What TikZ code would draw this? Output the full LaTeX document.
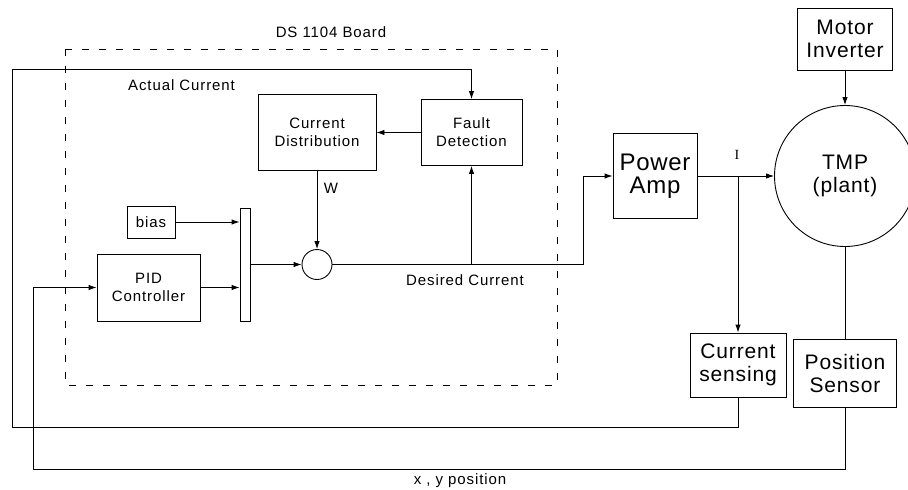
\documentclass[tikz,border=0pt]{standalone}
\usepackage{fontspec}
\setmainfont{Liberation Sans}
\newfontfamily\serifletter{Liberation Serif}
\usetikzlibrary{arrows.meta,positioning}
\newcommand\smalltext{\fontsize{15}{18}\selectfont\addfontfeature{LetterSpace=6}}
\newcommand\bigtext{\fontsize{21}{23}\selectfont\addfontfeature{LetterSpace=4}}
\tikzset{
  smallbox/.style={
    draw=black,
    line width=0.9pt,
    align=center,
    inner sep=0pt,
    font=\smalltext
  },
  bigbox/.style={
    draw=black,
    line width=0.9pt,
    align=center,
    inner sep=0pt,
    font=\bigtext
  },
  sumnode/.style={
    draw=black,
    circle,
    line width=0.9pt,
    minimum size=30pt,
    inner sep=0pt
  },
  sigarrow/.style={
    -{Latex[length=8pt,width=5.5pt]},
    line width=0.9pt
  },
  sigline/.style={
    line width=0.9pt
  },
  boardline/.style={
    line width=0.6pt,
    dash pattern=on 7pt off 10pt
  },
  labeltext/.style={
    font=\smalltext,
    inner sep=0pt
  }
}

\begin{document}
\begin{tikzpicture}[x=1pt,y=-1pt]
  \useasboundingbox (0,0) rectangle (908,490);
  \clip (0,0) rectangle (908,490);

  % board outline
  \draw[boardline] (65,49) rectangle (557,385);
  \node[labeltext] (board) at (331,32) {DS 1104 Board};

  % blocks on the board
  \node[smallbox, minimum width=118pt, minimum height=76pt] (curdist) at (317,132.5) {Current\\Distribution};
  \node[smallbox, minimum width=101pt, minimum height=66pt] (fault) at (471.5,132.5) {Fault\\Detection};
  \node[smallbox, minimum width=48pt, minimum height=32pt] (bias) at (151,222) {bias};
  \node[smallbox, minimum width=103pt, minimum height=67pt] (pid) at (148.5,287.5) {PID\\Controller};
  \node[smallbox, minimum width=10pt, minimum height=113pt] (mux) at (245,264.5) {};
  \node[sumnode] (sum) at (317,264.5) {};

  % plant side
  \node[bigbox, font=\fontsize{24}{23}\selectfont\addfontfeature{LetterSpace=3}, minimum width=84pt, minimum height=85pt] (pamp) at (655,176) {Power\\Amp};
  \node[bigbox, circle, minimum size=141pt] (tmp) at (845,176) {TMP\\(plant)};
  \node[bigbox, minimum width=95pt, minimum height=62pt] (motinv) at (845,39) {Motor\\Inverter};
  \node[bigbox, minimum width=96pt, minimum height=64pt] (cursens) at (738,365) {Current\\sensing};
  \node[bigbox, minimum width=103pt, minimum height=68pt] (possens) at (845,373) {Position\\Sensor};

  % corners and taps
  \coordinate (actbot) at (12,427);
  \coordinate (acttop) at (12,69);
  \coordinate (posbot) at (33,469);
  \coordinate (descorner) at (583,264.5);
  \coordinate (destap) at (471.5,264.5);
  \coordinate (itap) at (738,176);

  % connectors
  \draw[sigarrow] (cursens.south) |- (actbot) -- (acttop) -| (fault.north);
  \draw[sigarrow] (possens.south) |- (posbot) |- (pid.west);
  \draw[sigarrow] (fault.west) -- (curdist.east);
  \draw[sigarrow] (curdist.south) -- (sum.north);
  \draw[sigarrow] (bias.east) -- (bias.east -| mux.west);
  \draw[sigarrow] (pid.east) -- (pid.east -| mux.west);
  \draw[sigarrow] (mux.east |- sum.west) -- (sum.west);
  \draw[sigarrow] (sum.east) -- (descorner) |- (pamp.west);
  \draw[sigarrow] (destap) -- (fault.south);
  \draw[sigarrow] (pamp.east) -- (tmp.west);
  \draw[sigarrow] (itap) -- (cursens.north);
  \draw[sigarrow] (motinv.south) -- (tmp.north);
  \draw[sigline] (tmp.south) -- (possens.north);

  % signal labels
  \node[labeltext, anchor=west] (actlbl) at (128,85) {Actual Current};
  \node[labeltext] (wlbl) at (331,188) {W};
  \node[labeltext, anchor=west] (deslbl) at (406,280) {Desired Current};
  \node[labeltext, font=\serifletter\fontsize{14}{14}\selectfont] (ilbl) at (737,155) {I};
  \node[labeltext] (poslbl) at (460,481) {x , y position};
\end{tikzpicture}
\end{document}
